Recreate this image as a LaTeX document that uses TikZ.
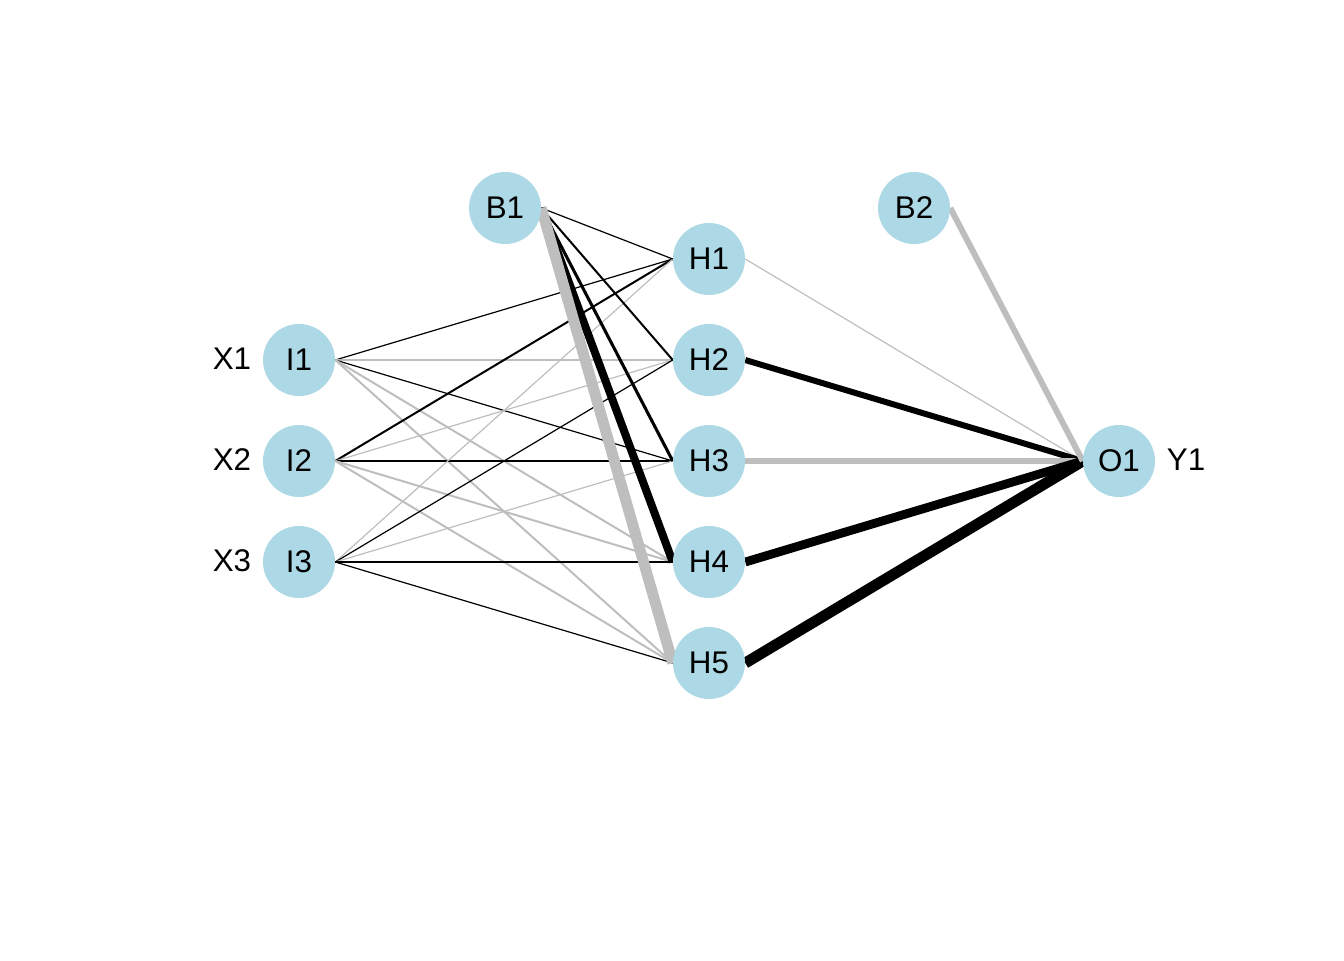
\documentclass[tikz,border=0pt]{standalone}
\usepackage{fontspec}
\setmainfont{Liberation Sans}
\usetikzlibrary{backgrounds}
\definecolor{nodeblue}{HTML}{ADD8E6}
\definecolor{wgray}{HTML}{BEBEBE}
\tikzset{
  neuron/.style={circle, fill=nodeblue, minimum size=54pt, inner sep=0pt, font=\fontsize{23.5}{28}\selectfont},
  lab/.style={inner sep=0pt, font=\fontsize{23.5}{28}\selectfont},
  poswt/.style={draw=black},
  negwt/.style={draw=wgray},
  w1/.style={line width=0.9pt},
  w2/.style={line width=1.5pt},
  w3/.style={line width=2.3pt},
  w5/.style={line width=4.5pt},
  w6/.style={line width=6pt},
  w7/.style={line width=6.6pt},
  w8/.style={line width=8.2pt},
  w10/.style={line width=8.2pt},
}
\begin{document}
\begin{tikzpicture}[x=0.75pt,y=-0.75pt]
\useasboundingbox (0,0) rectangle (1344,960);
% nodes
\node[neuron] (I1) at (299,360) {I1};
\node[neuron] (I2) at (299,461) {I2};
\node[neuron] (I3) at (299,562) {I3};
\node[neuron] (B1) at (505,208) {B1};
\node[neuron] (H1) at (709,259) {H1};
\node[neuron] (H2) at (709,360) {H2};
\node[neuron] (H3) at (709,461) {H3};
\node[neuron] (H4) at (709,562) {H4};
\node[neuron] (H5) at (709,663) {H5};
\node[neuron] (B2) at (914,208) {B2};
\node[neuron] (O1) at (1119,461) {O1};
\node[lab] (X1) at (232,359) {X1};
\node[lab] (X2) at (232,460) {X2};
\node[lab] (X3) at (232,561) {X3};
\node[lab] (Y1) at (1186,460) {Y1};
\begin{scope}[on background layer]
% input to hidden
\draw[poswt,w1] (I1.east) -- (H1.west);
\draw[negwt,w1] (I1.east) -- (H2.west);
\draw[poswt,w1] (I1.east) -- (H3.west);
\draw[negwt,w2] (I1.east) -- (H4.west);
\draw[negwt,w2] (I1.east) -- (H5.west);
\draw[poswt,w2] (I2.east) -- (H1.west);
\draw[negwt,w1] (I2.east) -- (H2.west);
\draw[poswt,w1] (I2.east) -- (H3.west);
\draw[negwt,w2] (I2.east) -- (H4.west);
\draw[negwt,w2] (I2.east) -- (H5.west);
\draw[negwt,w1] (I3.east) -- (H1.west);
\draw[poswt,w1] (I3.east) -- (H2.west);
\draw[negwt,w1] (I3.east) -- (H3.west);
\draw[poswt,w1] (I3.east) -- (H4.west);
\draw[poswt,w1] (I3.east) -- (H5.west);
% bias 1
\draw[poswt,w1] (B1.east) -- (H1.west);
\draw[poswt,w2] (B1.east) -- (H2.west);
\draw[poswt,w3] (B1.east) -- (H3.west);
\draw[poswt,w6] (B1.east) -- (H4.west);
\draw[negwt,w10] (B1.east) -- (H5.west);
% hidden to output
\draw[negwt,w1] (H1.east) -- (O1.west);
\draw[poswt,w5] (H2.east) -- (O1.west);
\draw[negwt,w5] (H3.east) -- (O1.west);
\draw[poswt,w7] (H4.east) -- (O1.west);
\draw[poswt,w8] (H5.east) -- (O1.west);
\draw[negwt,w5] (B2.east) -- (O1.west);
\end{scope}
\end{tikzpicture}
\end{document}
